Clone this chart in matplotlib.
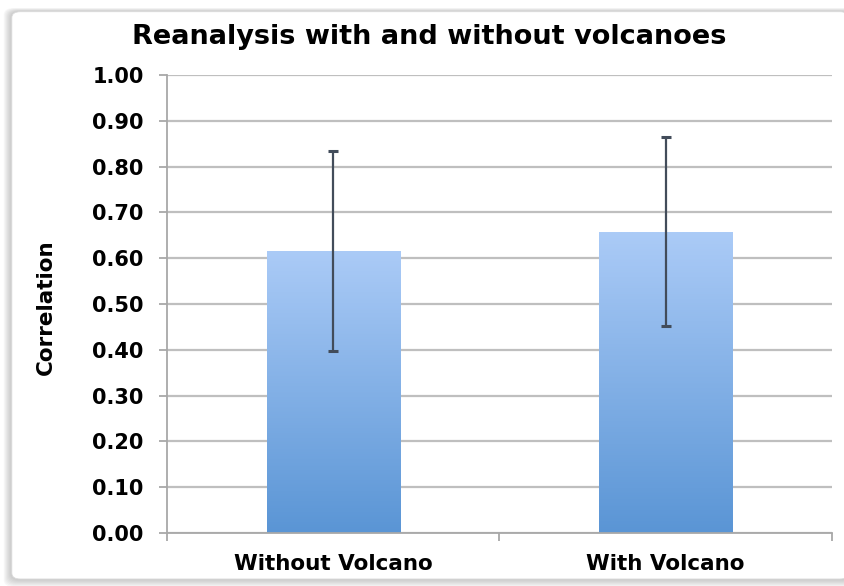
import numpy as np
import matplotlib
matplotlib.use("Agg")
import matplotlib.pyplot as plt
from matplotlib.patches import FancyBboxPatch
from matplotlib.colors import LinearSegmentedColormap

categories = ["Without Volcano", "With Volcano"]
values = [0.616, 0.657]
err_low = [0.218, 0.205]
err_high = [0.218, 0.207]
yticks = [0.0, 0.1, 0.2, 0.3, 0.4, 0.5, 0.6, 0.7, 0.8, 0.9, 1.0]

fig = plt.figure(figsize=(8.45, 5.86), dpi=100)
fig.patch.set_facecolor("white")

# soft shadow behind the chart frame
fx0, fy0, fw, fh = 0.014, 0.012, 0.99, 0.968
for i in range(8):
    g = 8 - i
    fig.patches.append(FancyBboxPatch((fx0 - g * 0.0012, fy0 - g * 0.0017), fw + g * 0.0024,
                                      fh + g * 0.0025,
                                      boxstyle="round,pad=0,rounding_size=0.012",
                                      transform=fig.transFigure, facecolor="#808080",
                                      alpha=0.06, edgecolor="none", zorder=-3 + i * 0.01))
frame = FancyBboxPatch((fx0, fy0), fw, fh, boxstyle="round,pad=0,rounding_size=0.01",
                       transform=fig.transFigure, facecolor="white", edgecolor="#dcdcdc",
                       lw=0.6, zorder=-1)
fig.patches.append(frame)

ax = fig.add_axes([0.1976, 0.0904, 0.787, 0.7816])
ax.set_zorder(1)
ax.set_facecolor("none")
x = np.arange(len(categories))
bars = ax.bar(x, values, width=0.4, color="none", zorder=2)

cmap = LinearSegmentedColormap.from_list("g", ["#5a95d5", "#abcbf7"])
grad = np.linspace(0, 1, 256).reshape(-1, 1)
for b in bars:
    x0, y0 = b.get_x(), b.get_y()
    w, h = b.get_width(), b.get_height()
    im = ax.imshow(grad, cmap=cmap, origin="lower", aspect="auto",
                   extent=[x0, x0 + w, y0, y0 + h], zorder=2)
    im.set_clip_path(b)

ax.errorbar(x, values, yerr=[err_low, err_high], fmt="none", ecolor="#424c5a",
            elinewidth=1.6, capsize=3.6, capthick=2.2, zorder=3)

ax.set_xlim(-0.5, 1.5)
ax.set_ylim(0, 1.0)
ax.set_yticks(yticks)
ax.set_yticklabels([f"{t:.2f}" for t in yticks], fontsize=15, fontweight="bold")
ax.set_xticks(x)
ax.set_xticklabels(categories, fontsize=15.5, fontweight="bold")
ax.tick_params(axis="x", length=0, pad=15)
ax.tick_params(axis="y", length=5.8, color="#a8a8a8", width=1.3, pad=11)
ax.set_xticks([-0.5, 0.5, 1.5], minor=True)
ax.tick_params(axis="x", which="minor", length=6, color="#a8a8a8", width=1.3)

ax.grid(axis="y", color="#bfbfbf", lw=1.6, zorder=0)
ax.set_axisbelow(True)
for s in ["top", "right"]:
    ax.spines[s].set_visible(False)
for s in ["left", "bottom"]:
    ax.spines[s].set_color("#a8a8a8")
    ax.spines[s].set_linewidth(1.3)

fig.text(0.054, 0.476, "Correlation", rotation=90, ha="center", va="center",
         fontsize=15.5, fontweight="bold")
fig.text(0.508, 0.937, "Reanalysis with and without volcanoes", ha="center", va="center",
         fontsize=19.5, fontweight="bold")

fig.savefig("out.png", dpi=100)
